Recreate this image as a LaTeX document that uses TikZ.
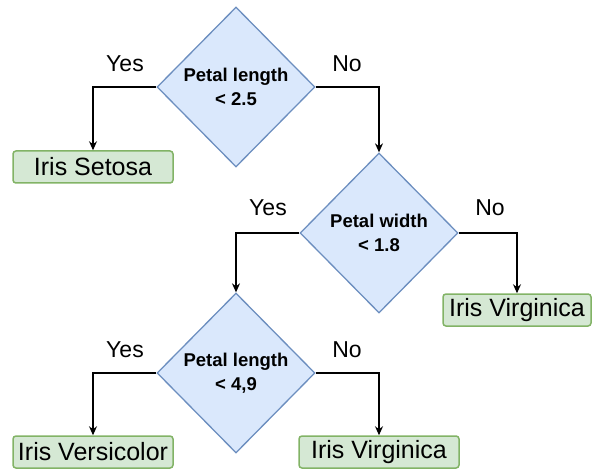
\documentclass[tikz,border=0pt]{standalone}
\usepackage{fontspec}
\setmainfont{Liberation Sans}
\usetikzlibrary{shapes.geometric,arrows.meta}

\definecolor{decfill}{HTML}{DAE8FC}
\definecolor{decline}{HTML}{6C8EBF}
\definecolor{leaffill}{HTML}{D5E8D4}
\definecolor{leafline}{HTML}{82B366}

\begin{document}
\begin{tikzpicture}[x=1pt, y=-1pt,
    decision/.style={diamond, draw=decline, fill=decfill, line width=1.3pt, inner sep=0pt,
        minimum width=158pt, minimum height=160pt, align=center,
        font=\bfseries\fontsize{18.5}{24}\selectfont},
    leaf/.style={rectangle, rounded corners=3pt, draw=leafline, fill=leaffill, line width=1.5pt,
        minimum width=160pt, minimum height=32pt, inner sep=0pt,
        font=\fontsize{25}{30}\selectfont},
    answer/.style={font=\fontsize{23}{28}\selectfont},
    edge/.style={-{Stealth[length=9pt,width=8pt]}, line width=1.2pt}]
    \useasboundingbox (0,0) rectangle (593,470);

    % Decision nodes
    \node[decision] (len1) at (236,87) {Petal length\\< 2.5};
    \node[decision] (wid) at (379,233) {Petal width\\< 1.8};
    \node[decision] (len2) at (236,373) {Petal length\\< 4,9};

    % Leaves
    \node[leaf] (setosa) at (93,167) {Iris Setosa};
    \node[leaf, minimum width=148pt] (virg1) at (517,310) {Iris Virginica};
    \node[leaf] (versi) at (93,452) {Iris Versicolor};
    \node[leaf] (virg2) at (379,452) {Iris Virginica};

    % Branch labels
    \node[answer] (yes1) at (125,64) {Yes};
    \node[answer] (no1) at (347,64) {No};
    \node[answer] (yes2) at (268,208) {Yes};
    \node[answer] (no2) at (490,208) {No};
    \node[answer] (yes3) at (125,350) {Yes};
    \node[answer] (no3) at (347,350) {No};

    % Arrows
    \draw[edge] (len1.west) -| (setosa.north);
    \draw[edge] (len1.east) -| (wid.north);
    \draw[edge] (wid.west) -| (len2.north);
    \draw[edge] (wid.east) -| (virg1.north);
    \draw[edge] (len2.west) -| (versi.north);
    \draw[edge] (len2.east) -| (virg2.north);
\end{tikzpicture}
\end{document}
